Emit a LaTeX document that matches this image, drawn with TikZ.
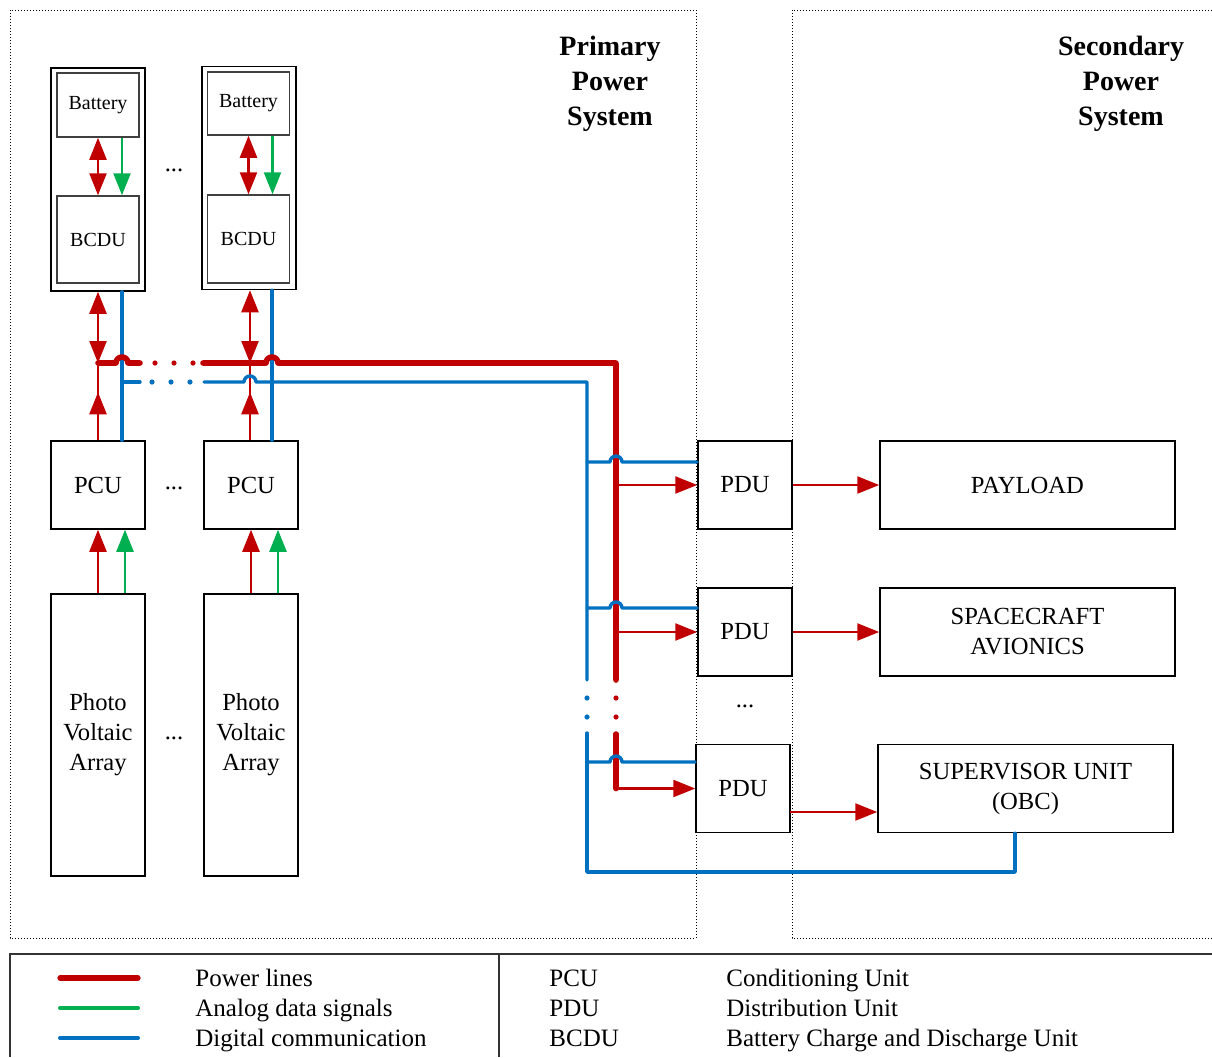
\documentclass[tikz,border=0pt]{standalone}
\usepackage{fontspec}
\setmainfont{Liberation Serif}
\usetikzlibrary{positioning, arrows.meta, calc}
\definecolor{power}{RGB}{192,0,0}
\definecolor{analog}{RGB}{0,176,80}
\definecolor{digital}{RGB}{0,112,192}

\begin{document}
\begin{tikzpicture}[
		x=0.5pt, y=-0.5pt,
		>={Triangle[length=11pt, width=8.5pt]},
		every node/.style={font=\fontsize{12.3}{15}\selectfont},
		unit/.style={rectangle, draw=black, line width=0.75pt, minimum width=47pt, minimum height=44pt, align=center, inner sep=0pt},
		wide/.style={unit, minimum width=147.5pt},
		module/.style={rectangle, draw=black, line width=0.75pt, minimum width=47pt, minimum height=111.5pt},
		part/.style={rectangle, draw=black!75, line width=0.75pt, minimum width=41pt, inner sep=0pt, font=\fontsize{10}{12}\selectfont},
		zone/.style={densely dotted, line width=0.5pt},
		zonetitle/.style={align=center, font=\fontsize{14}{17.5}\selectfont\bfseries},
		pwr/.style={power, line width=1.2pt, ->},
		pwrline/.style={power, line width=1.2pt},
		ana/.style={analog, line width=1.2pt, ->},
		pwrbus/.style={power, line width=2.8pt, line cap=round, line join=round},
		digbus/.style={digital, line width=1.7pt, line cap=round, line join=round},
		gap/.style={line width=2.6pt, dash pattern=on 0pt off 9.5pt},
		legendtxt/.style={anchor=base west, inner sep=0pt, font=\fontsize{12.5}{15}\selectfont}
		]
		\useasboundingbox (0,0) rectangle (1212,1057);
		
		% Zones
		\draw[zone] (10,10) rectangle (696,938);
		\draw[zone] (1212,10) -- (792,10) -- (792,938) -- (1212,938);
		\node[zonetitle] (primary) at (610,84) {Primary\\Power\\System};
		\node[zonetitle] (secondary) at (1121,84) {Secondary\\Power\\System};
		
		% Battery modules
		\node[module] (mod1) at (98,179.5) {};
		\node[part, minimum height=32pt] (batt1) at (98,105) {Battery};
		\node[part, minimum height=43.5pt] (bcdu1) at (98,239.5) {BCDU};
		\node[module] (mod2) at (249,178) {};
		\node[part, minimum height=31.5pt] (batt2) at (248.5,103.5) {Battery};
		\node[part, minimum height=44pt] (bcdu2) at (248.5,239) {BCDU};
		\node (dots1) at (174,170) {...};
		
		\draw[pwr, <->] (batt1) -- (bcdu1);
		\draw[ana] ($(batt1.south)+(24,0)$) -- ($(bcdu1.north)+(24,0)$);
		\draw[pwr, <->] (batt2) -- (bcdu2);
		\draw[ana] ($(batt2.south)+(24,0)$) -- ($(bcdu2.north)+(24,0)$);
		
		% PCU and arrays
		\node[unit] (pcu1) at (98,485) {PCU};
		\node[unit] (pcu2) at (251,485) {PCU};
		\node (dots2) at (174,488) {...};
		\node[unit, minimum height=141pt] (pv1) at (98,735) {Photo\\Voltaic\\Array};
		\node[unit, minimum height=141pt] (pv2) at (251,735) {Photo\\Voltaic\\Array};
		\node (dots3) at (174,738) {...};
		
		\draw[pwr] (pv1) -- (pcu1);
		\draw[ana] ($(pv1.north)+(27,0)$) -- ($(pcu1.south)+(27,0)$);
		\draw[pwr] (pv2) -- (pcu2);
		\draw[ana] ($(pv2.north)+(27,0)$) -- ($(pcu2.south)+(27,0)$);
		
		% Bus junctions
		\coordinate (r1) at (98,363);
		\coordinate (r2) at (250,363);
		\coordinate (b1) at (122,382);
		\coordinate (b2) at (272,382);
		
		\draw[pwr, <->] (mod1.south) -- (r1);
		\draw[pwr, <->] (mod2.south -| r2) -- (r2);
		\draw[pwrline] (pcu1.north) -- (r1);
		\draw[pwr] (pcu1.north) -- ++(0,-48);
		\draw[pwrline] (pcu2.north -| r2) -- (r2);
		\draw[pwr] (pcu2.north -| r2) -- ++(0,-48);
		\draw[digbus] (mod1.south -| b1) -- (pcu1.north -| b1);
		\draw[digbus] (mod2.south -| b2) -- (pcu2.north -| b2);
		
		% Power bus
		\draw[pwrbus] (r1) -- (116,363) arc[start angle=180, end angle=360, radius=6] -- (140,363);
		\draw[pwrbus, gap] (155,363) -- (196,363);
		\draw[pwrbus] (203,363) -- (266,363) arc[start angle=180, end angle=360, radius=6] -- (616,363) -- (616,680);
		\draw[pwrbus, gap] (616,698) -- (616,720);
		\draw[pwrbus] (616,734) -- (616,788.5);
		
		% Digital bus
		\draw[digbus] (b1) -- (140,382);
		\draw[digbus, gap] (152,382) -- (192,382);
		\draw[digbus] (204,382) -- (244,382) arc[start angle=180, end angle=360, radius=6] -- (587,382) -- (587,680);
		\draw[digbus, gap] (587,698) -- (587,720);
		
		% PDUs
		\node[unit] (pdu1) at (745,485) {PDU};
		\node[unit] (pdu2) at (745,632) {PDU};
		\node[unit] (pdu3) at (743,788.5) {PDU};
		\node (dots4) at (745,706) {...};
		
		\coordinate (d1) at (587,462);
		\coordinate (d2) at (587,608);
		\coordinate (d3) at (587,762);
		\draw[digbus] (d1) -- (610,462) arc[start angle=180, end angle=360, radius=6] -- (d1 -| pdu1.west);
		\draw[digbus] (d2) -- (610,608) arc[start angle=180, end angle=360, radius=6] -- (d2 -| pdu2.west);
		\draw[digbus] (d3) -- (610,762) arc[start angle=180, end angle=360, radius=6] -- (d3 -| pdu3.west);
		
		\coordinate (p1) at (616,485);
		\coordinate (p2) at (616,632);
		\coordinate (p3) at (616,788.5);
		\draw[pwr] (p1) -- (pdu1);
		\draw[pwr] (p2) -- (pdu2);
		\draw[pwr] (p3) -- (pdu3);
		
		% Loads
		\node[wide] (payload) at (1027.5,485) {PAYLOAD};
		\node[wide] (avionics) at (1027.5,632) {SPACECRAFT\\AVIONICS};
		\node[wide] (obc) at (1025.5,788.5) {SUPERVISOR UNIT\\(OBC)};
		
		\draw[pwr] (pdu1) -- (payload);
		\draw[pwr] (pdu2) -- (avionics);
		\coordinate (q3) at (790,812);
		\draw[pwr] (q3) -- (q3 -| obc.west);
		
		\coordinate (o1) at (1015,872);
		\draw[digbus] (587,733) -- (587,872) -- (o1) -- (obc.south -| o1);
		
		% Legend
		\draw[line width=0.75pt, black!80] (1212,954) -- (10,954) -- (10,1057);
		\draw[line width=0.75pt, black!80] (499,954) -- (499,1057);
		\draw[power, line width=2.6pt, line cap=round] (60,978) -- (138,978);
		\draw[analog, line width=2pt, line cap=round] (60,1008) -- (138,1008);
		\draw[digital, line width=2pt, line cap=round] (60,1038) -- (138,1038);
		\node[legendtxt] (lg1) at (195,986) {Power lines};
		\node[legendtxt] (lg2) at (195,1016) {Analog data signals};
		\node[legendtxt] (lg3) at (195,1046) {Digital communication};
		\node[legendtxt] (ab1) at (549,986) {PCU};
		\node[legendtxt] (ab2) at (549,1016) {PDU};
		\node[legendtxt] (ab3) at (549,1046) {BCDU};
		\node[legendtxt] (ex1) at (726,986) {Conditioning Unit};
		\node[legendtxt] (ex2) at (726,1016) {Distribution Unit};
		\node[legendtxt] (ex3) at (726,1046) {Battery Charge and Discharge Unit};
		
	\end{tikzpicture}
\end{document}
